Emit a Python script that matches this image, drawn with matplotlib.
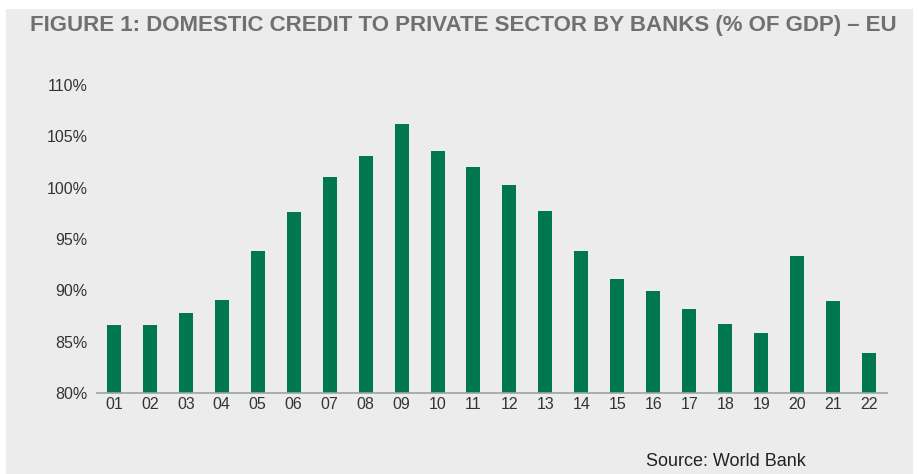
import numpy as np
import matplotlib.pyplot as plt
from matplotlib.patches import Rectangle

years = ['01', '02', '03', '04', '05', '06', '07', '08', '09', '10', '11',
         '12', '13', '14', '15', '16', '17', '18', '19', '20', '21', '22']
credit = [86.6, 86.6, 87.8, 89.1, 93.8, 97.6, 101.0, 103.1, 106.2, 103.6, 102.0,
          100.3, 97.7, 93.8, 91.1, 89.9, 88.2, 86.7, 85.8, 93.3, 89.0, 83.9]
yticks = [80, 85, 90, 95, 100, 105, 110]

plt.rcParams['font.family'] = ['Liberation Sans', 'DejaVu Sans']

W, H = 919, 474
fig = plt.figure(figsize=(W / 100, H / 100), dpi=100)
fig.patch.set_facecolor('white')
fig.patches.append(Rectangle((6 / W, 0), 907 / W, (H - 9) / H, transform=fig.transFigure,
                             facecolor='#ececec', edgecolor='none', zorder=-1))

ax = fig.add_axes([97 / W, (H - 393) / H, (887 - 97) / W, (393 - 85) / H])
ax.set_facecolor('none')
x = np.arange(len(years))
ax.bar(x, [v - 80 for v in credit], bottom=80, width=0.39, color='#00774f')
ax.set_xlim(-0.47, len(years) - 0.5)
ax.set_ylim(80, 110)
ax.set_yticks(yticks)
ax.set_yticklabels([f'{t}%' for t in yticks])
ax.set_xticks(x)
ax.set_xticklabels(years)
ax.tick_params(length=0, labelsize=11.5, colors='#333333')
ax.tick_params(axis='y', pad=7)
ax.tick_params(axis='x', pad=3)
for s in ['top', 'right', 'left']:
    ax.spines[s].set_visible(False)
ax.spines['bottom'].set_color('#9aa5a0')
ax.spines['bottom'].set_linewidth(1.2)

fig.text(30 / W, 1 - 25 / H, 'FIGURE 1: DOMESTIC CREDIT TO PRIVATE SECTOR BY BANKS (% OF GDP) – EU',
         fontweight='bold', fontsize=16, color='#707070', va='center', ha='left')
fig.text(646 / W, 1 - 461 / H, 'Source: World Bank', fontsize=13, color='#222222',
         va='center', ha='left')

fig.savefig('out.png', dpi=100)
